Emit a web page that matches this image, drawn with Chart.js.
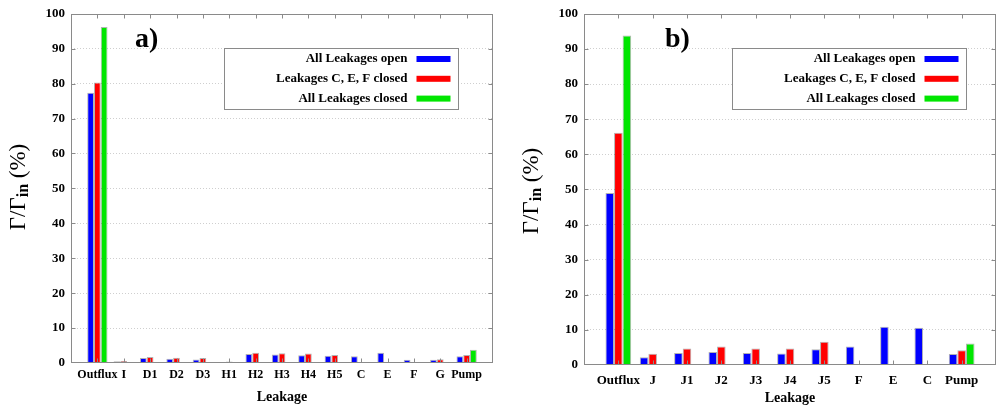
<!DOCTYPE html>
<html>
<head>
<meta charset="utf-8">
<script src="https://cdn.jsdelivr.net/npm/chart.js@4.4.1/dist/chart.umd.min.js"></script>
<style>
  html, body { margin: 0; padding: 0; background: #fff; width: 998px; height: 409px; overflow: hidden; }
  .panel { position: absolute; top: 0; height: 409px; }
  #wrapA { left: 0; width: 498px; }
  #wrapB { left: 510px; width: 494px; }
</style>
</head>
<body>
<div id="wrapA" class="panel"><canvas id="chartA"></canvas></div>
<div id="wrapB" class="panel"><canvas id="chartB"></canvas></div>
<script>
// data (Γ/Γin in %)
const seriesNames = ['All Leakages open', 'Leakages C, E, F closed', 'All Leakages closed'];
const seriesColors = ['#0000ff', '#ff0000', '#00e600'];
const yTicks = [0, 10, 20, 30, 40, 50, 60, 70, 80, 90, 100];

// panel a)
const catsA = ['Outflux', 'I', 'D1', 'D2', 'D3', 'H1', 'H2', 'H3', 'H4', 'H5', 'C', 'E', 'F', 'G', 'Pump'];
const openA = [77.4, 0.5, 1.4, 1.2, 1.0, 0.3, 2.6, 2.4, 2.2, 2.1, 1.9, 2.9, 0.9, 0.9, 1.9];
const cefClosedA = [80.3, 0.6, 1.7, 1.5, 1.4, 0.4, 2.9, 2.8, 2.7, 2.3, null, null, null, 1.1, 2.3];
const allClosedA = [96.2, null, null, null, null, null, null, null, null, null, null, null, null, null, 3.8];

// panel b)
const catsB = ['Outflux', 'J', 'J1', 'J2', 'J3', 'J4', 'J5', 'F', 'E', 'C', 'Pump'];
const openB = [49.0, 2.2, 3.4, 3.7, 3.4, 3.3, 4.5, 5.3, 10.9, 10.6, 3.1];
const cefClosedB = [66.1, 3.2, 4.7, 5.3, 4.7, 4.7, 6.6, null, null, null, 4.2];
const allClosedB = [93.8, null, null, null, null, null, null, null, null, null, 6.1];

const FONT = '"Liberation Serif", "Times New Roman", serif';

// gnuplot-like frame with inward tick marks
const gnuplotFrame = {
  id: 'gnuplotFrame',
  afterDatasetsDraw(chart, args, opts) {
    const { ctx, chartArea: a, scales } = chart;
    const L = Math.round(a.left) + 0.5, R = Math.round(a.right) - 0.5;
    const T = Math.round(a.top) + 0.5, B = Math.round(a.bottom) - 0.5;
    ctx.save();
    ctx.strokeStyle = '#8a8a8a';
    ctx.lineWidth = 1;
    ctx.strokeRect(L, T, R - L, B - T);
    ctx.beginPath();
    for (let i = 0; i < opts.count; i++) {
      const x = Math.round(scales.x.getPixelForValue(i)) + 0.5;
      ctx.moveTo(x, B); ctx.lineTo(x, B - 4);
      ctx.moveTo(x, T); ctx.lineTo(x, T + 4);
    }
    yTicks.slice(1, -1).forEach(v => {
      const y = Math.round(scales.y.getPixelForValue(v)) + 0.5;
      ctx.moveTo(L, y); ctx.lineTo(L + 4, y);
      ctx.moveTo(R, y); ctx.lineTo(R - 4, y);
    });
    ctx.stroke();
    ctx.restore();
  }
};

// key box: text right aligned, colour sample on the right
const gnuplotLegend = {
  id: 'gnuplotLegend',
  afterDraw(chart, args, opts) {
    const { ctx, chartArea: a } = chart;
    const w = 234, h = 61;
    const x0 = Math.round(a.right - opts.right - w) + 0.5;
    const y0 = Math.round(a.top + opts.top) + 0.5;
    ctx.save();
    ctx.fillStyle = '#fff';
    ctx.fillRect(x0, y0, w, h);
    ctx.strokeStyle = '#8a8a8a';
    ctx.lineWidth = 1;
    ctx.strokeRect(x0, y0, w, h);
    ctx.font = 'bold 13px ' + FONT;
    ctx.textAlign = 'right';
    ctx.textBaseline = 'middle';
    chart.data.datasets.forEach((ds, i) => {
      const cy = y0 + 10.5 + i * 19.8;
      ctx.fillStyle = '#000';
      ctx.fillText(ds.label, x0 + 183, cy);
      ctx.fillStyle = ds.backgroundColor;
      ctx.fillRect(x0 + 192, cy - 3, 34, 6);
    });
    ctx.restore();
  }
};

// rotated y title with subscript + panel tag
const yTitle = {
  id: 'yTitle',
  afterDraw(chart, args, opts) {
    const ctx = chart.ctx;
    const big = '23px ' + FONT, small = 'bold 16px ' + FONT;
    ctx.save();
    ctx.fillStyle = '#000';
    ctx.font = 'bold 28px ' + FONT;
    ctx.textBaseline = 'alphabetic';
    ctx.fillText(opts.tag, opts.tagX, opts.tagY);

    ctx.translate(opts.x, opts.y);
    ctx.rotate(-Math.PI / 2);
    ctx.font = big;
    const w1 = ctx.measureText('Γ/Γ').width;
    const w3 = ctx.measureText(' (%)').width;
    ctx.font = small;
    const w2 = ctx.measureText('in').width;
    let x = -(w1 + w2 + w3) / 2;
    ctx.font = big;
    ctx.fillText('Γ/Γ', x, 7); x += w1;
    ctx.font = small;
    ctx.fillText('in', x, 10); x += w2;
    ctx.font = big;
    ctx.fillText(' (%)', x, 7);
    ctx.restore();
  }
};

function buildChart(id, cats, series, cfg) {
  const datasets = series.map((vals, k) => ({
    label: seriesNames[k],
    data: vals.map((v, i) => ({ x: i, y: v })),
    backgroundColor: seriesColors[k],
    borderColor: 'rgba(0,0,0,0.3)',
    borderWidth: 1,
    categoryPercentage: cfg.catPct,
    barPercentage: 1
  }));

  return new Chart(document.getElementById(id), {
    type: 'bar',
    data: { datasets },
    plugins: [gnuplotFrame, gnuplotLegend, yTitle],
    options: {
      responsive: true,
      maintainAspectRatio: false,
      animation: false,
      layout: { padding: { top: cfg.top, right: 2, left: 0, bottom: 0 } },
      plugins: {
        legend: { display: false },
        tooltip: { enabled: false },
        gnuplotFrame: { count: cats.length },
        gnuplotLegend: { right: cfg.legRight, top: 34 },
        yTitle: cfg.title
      },
      scales: {
        x: {
          type: 'linear',
          min: -1,
          max: cfg.xMax,
          offset: false,
          grid: { display: false, drawTicks: false, offset: false },
          border: { display: false },
          ticks: {
            stepSize: 1,
            autoSkip: false,
            maxRotation: 0,
            padding: cfg.xPad,
            color: '#000',
            font: { family: FONT, weight: 'bold', size: cfg.xFont },
            callback: v => cats[v] ?? ''
          },
          title: {
            display: true,
            text: 'Leakage',
            color: '#000',
            font: { family: FONT, weight: 'bold', size: 14 },
            padding: { top: 0, bottom: cfg.titlePad }
          },
          afterFit: s => { s.height = cfg.xHeight; }
        },
        y: {
          min: 0,
          max: 100,
          grid: {
            color: c => (c.tick.value > 0 && c.tick.value < 100) ? '#cfcfcf' : 'rgba(0,0,0,0)',
            drawTicks: false
          },
          border: { display: false, dash: [1, 2] },
          ticks: {
            stepSize: 10,
            padding: 6,
            color: '#000',
            font: { family: FONT, weight: 'bold', size: 13 }
          },
          afterFit: s => { s.width = cfg.yWidth; }
        }
      }
    }
  });
}

buildChart('chartA', catsA, [openA, cefClosedA, allClosedA], {
  catPct: 0.77, top: 10, xMax: 15, xPad: 5, xFont: 12, titlePad: 3, xHeight: 46, yWidth: 71,
  legRight: 35,
  title: { x: 18, y: 187, tag: 'a)', tagX: 135, tagY: 47 }
});

buildChart('chartB', catsB, [openB, cefClosedB, allClosedB], {
  catPct: 0.75, top: 12, xMax: 11, xPad: 8, xFont: 13, titlePad: 2, xHeight: 44, yWidth: 74,
  legRight: 30,
  title: { x: 21, y: 191, tag: 'b)', tagX: 155, tagY: 47 }
});
</script>
</body>
</html>
